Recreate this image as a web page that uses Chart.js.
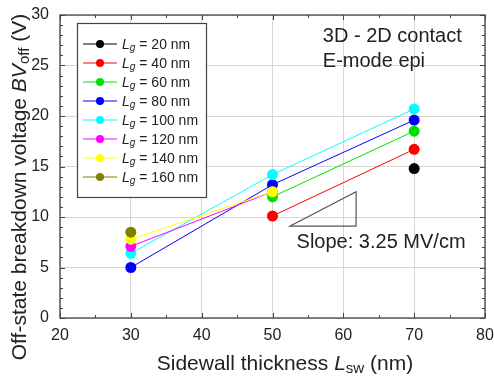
<!DOCTYPE html>
<html>
<head>
<meta charset="utf-8">
<script src="https://cdn.jsdelivr.net/npm/chart.js@4.4.1/dist/chart.umd.min.js"></script>
<style>
  html, body { margin: 0; padding: 0; background: #fff; }
  #wrap { width: 494px; height: 377px; }
</style>
</head>
<body>
<div id="wrap"><canvas id="bvChart" width="494" height="377"></canvas></div>
<script>
// --- data ---
const sidewall = [30, 50, 70];                 // Lsw (nm)
const gateLengths = [20, 40, 60, 80, 100, 120, 140, 160]; // Lg (nm)
const bv20  = [null, null, 14.8];
const bv40  = [null, 10.1, 16.7];
const bv60  = [null, 12.0, 18.5];
const bv80  = [5.0, 13.2, 19.6];
const bv100 = [6.4, 14.2, 20.7];
const bv120 = [7.1, 12.5, null];
const bv140 = [7.8, 12.5, null];
const bv160 = [8.5, null, null];
const seriesColors = ["#000000", "#ff0000", "#00e000", "#0000ff", "#00ffff", "#ff00ff", "#ffff00", "#808000"];
const xTicks = [20, 30, 40, 50, 60, 70, 80];
const yTicks = [0, 5, 10, 15, 20, 25, 30];

const allSeries = [bv20, bv40, bv60, bv80, bv100, bv120, bv140, bv160];
const FONT = "'Liberation Sans', Arial, sans-serif";

const datasets = allSeries.map((vals, i) => ({
  label: "Lg = " + gateLengths[i] + " nm",
  data: sidewall.map((x, k) => ({ x: x, y: vals[k] })),
  borderColor: seriesColors[i],
  backgroundColor: seriesColors[i],
  borderWidth: 1,
  pointRadius: 5.5,
  pointBorderWidth: 0,
  spanGaps: false,
  order: allSeries.length - i   // later series on top
}));

// mixed italic / subscript text
function drawRich(ctx, parts, x, y, size, align) {
  const fontOf = p => {
    const sz = p[1].includes("s") ? size * 0.72 : size;
    return (p[1].includes("i") ? "italic " : "") + sz + "px " + FONT;
  };
  let total = 0;
  parts.forEach(p => { ctx.font = fontOf(p); total += ctx.measureText(p[0]).width; });
  let cx = align === "center" ? x - total / 2 : x;
  ctx.textAlign = "left";
  ctx.textBaseline = "alphabetic";
  parts.forEach(p => {
    ctx.font = fontOf(p);
    ctx.fillText(p[0], cx, y + (p[1].includes("s") ? size * 0.12 : 0));
    cx += ctx.measureText(p[0]).width;
  });
}

const decorPlugin = {
  id: "decor",
  afterDatasetsDraw(chart) {
    const { ctx, chartArea: a, scales: { x, y } } = chart;
    ctx.save();
    // frame
    ctx.strokeStyle = "#444";
    ctx.lineWidth = 1.3;
    ctx.strokeRect(a.left, a.top, a.right - a.left, a.bottom - a.top);
    // inward ticks
    ctx.lineWidth = 1;
    for (let v = 0; v <= 30; v += 1) {
      const py = Math.round(y.getPixelForValue(v)) + 0.5;
      const len = v % 5 === 0 ? 5 : 3;
      ctx.beginPath();
      ctx.moveTo(a.left, py); ctx.lineTo(a.left + len, py);
      ctx.moveTo(a.right, py); ctx.lineTo(a.right - len, py);
      ctx.stroke();
    }
    for (let v = 20; v <= 80; v += 5) {
      const px = Math.round(x.getPixelForValue(v)) + 0.5;
      const len = v % 10 === 0 ? 5 : 3;
      ctx.beginPath();
      ctx.moveTo(px, a.bottom); ctx.lineTo(px, a.bottom - len);
      ctx.moveTo(px, a.top); ctx.lineTo(px, a.top + len);
      ctx.stroke();
    }

    // legend box
    const lx = 77, ly = 23, lw = 129, lh = 174;
    ctx.fillStyle = "#fff";
    ctx.fillRect(lx, ly, lw, lh);
    ctx.strokeStyle = "#444";
    ctx.lineWidth = 1.2;
    ctx.strokeRect(lx + 0.5, ly + 0.5, lw, lh);
    chart.data.datasets.forEach((ds, i) => {
      const ry = 44 + i * 19;
      ctx.strokeStyle = ds.borderColor;
      ctx.lineWidth = 1;
      ctx.beginPath(); ctx.moveTo(83, ry); ctx.lineTo(117, ry); ctx.stroke();
      ctx.fillStyle = ds.borderColor;
      ctx.beginPath(); ctx.arc(100, ry, 4, 0, Math.PI * 2); ctx.fill();
      ctx.fillStyle = "#222";
      drawRich(ctx, [["L", "i"], ["g", "is"], [" = " + gateLengths[i] + " nm", ""]], 122, ry + 5, 14, "left");
    });

    // annotations
    ctx.fillStyle = "#222";
    ctx.font = "20px " + FONT;
    ctx.textAlign = "left";
    ctx.textBaseline = "middle";
    ctx.fillText("3D - 2D contact", x.getPixelForValue(57.1), y.getPixelForValue(27.9));
    ctx.fillText("E-mode epi", x.getPixelForValue(57.1), y.getPixelForValue(25.4));
    ctx.fillText("Slope: 3.25 MV/cm", x.getPixelForValue(53.4), y.getPixelForValue(7.5));
    ctx.strokeStyle = "#555";
    ctx.lineWidth = 1.2;
    ctx.beginPath();
    ctx.moveTo(x.getPixelForValue(52.5), y.getPixelForValue(9.1));
    ctx.lineTo(x.getPixelForValue(61.8), y.getPixelForValue(12.5));
    ctx.lineTo(x.getPixelForValue(61.8), y.getPixelForValue(9.1));
    ctx.closePath();
    ctx.stroke();

    // axis titles
    ctx.fillStyle = "#222";
    drawRich(ctx, [["Sidewall thickness ", ""], ["L", "i"], ["sw", "s"], [" (nm)", ""]], 285, 370, 21, "center");
    ctx.save();
    ctx.translate(26, 187);
    ctx.rotate(-Math.PI / 2);
    drawRich(ctx, [["Off-state breakdown voltage ", ""], ["BV", "i"], ["off", "s"], [" (V)", ""]], 0, 0, 21, "center");
    ctx.restore();
    ctx.restore();
  }
};

new Chart(document.getElementById("bvChart").getContext("2d"), {
  type: "line",
  data: { datasets: datasets },
  options: {
    responsive: false,
    animation: false,
    layout: { padding: { top: 15, right: 9, left: 0, bottom: 0 } },
    plugins: { legend: { display: false }, tooltip: { enabled: false } },
    scales: {
      x: {
        type: "linear",
        min: 20, max: 80,
        afterBuildTicks: s => { s.ticks = xTicks.map(v => ({ value: v })); },
        afterFit: s => { s.height = 59; s.paddingLeft = 0; s.paddingRight = 0; },
        grid: { color: "#d6d6d6", drawTicks: false },
        border: { display: false },
        ticks: { padding: 8, color: "#222", font: { family: FONT, size: 16 } }
      },
      y: {
        type: "linear",
        min: 0, max: 30,
        afterBuildTicks: s => { s.ticks = yTicks.map(v => ({ value: v })); },
        afterFit: s => { s.width = 60; s.paddingTop = 0; s.paddingBottom = 0; },
        grid: { color: "#d6d6d6", drawTicks: false },
        border: { display: false },
        ticks: { padding: 11, color: "#222", font: { family: FONT, size: 16 } }
      }
    }
  },
  plugins: [decorPlugin]
});
</script>
</body>
</html>
